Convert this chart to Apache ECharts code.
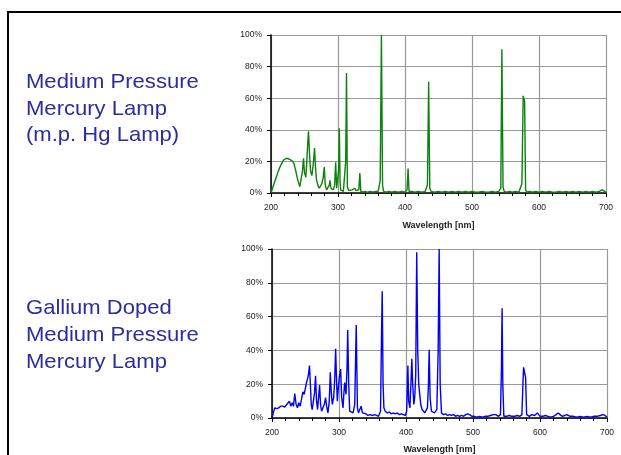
<!DOCTYPE html>
<html>
<head>
    <meta charset="utf-8">
    <title>Lamp spectra</title>
    <script src="https://cdn.jsdelivr.net/npm/echarts@6.0.0/dist/echarts.min.js"></script>
    <style>
        html, body { margin: 0; padding: 0; background: #fff; }
        #chart { width: 621px; height: 455px; }
    </style>
</head>
<body>
<div id="chart"></div>
<script>
    // medium pressure Hg lamp, wavelength (nm) / relative intensity (%)
    const hgWavelength = [200, 203, 207, 211, 215, 219, 223, 227, 231, 234, 237, 240, 243, 245, 247, 248.5, 250, 252, 253.5, 255,
        256, 257.5, 259, 261, 263, 265, 266.5, 268, 270, 272, 274, 276, 278, 279.5, 281, 283, 285, 287, 288, 289.5,
        291, 293, 295, 296.5, 298, 300, 301, 302, 303, 304, 306, 308, 310, 311.5, 312.7, 314, 316, 318, 321, 323,
        325, 327, 329, 331, 332.6, 334, 337, 340, 344, 348, 352, 356, 360, 363, 364.8, 366.5, 368, 372, 376, 380,
        385, 390, 395, 400, 403, 404.6, 406, 410, 415, 420, 425, 430, 433.5, 435.3, 437, 439, 444, 450, 455, 460,
        465, 470, 475, 480, 485, 490, 495, 500, 505, 510, 515, 520, 525, 530, 535, 540, 543, 544.6, 546.3, 548,
        552, 556, 560, 565, 570, 574.5, 576.4, 578.5, 580, 582, 586, 590, 595, 600, 605, 610, 615, 620, 625, 630,
        635, 640, 645, 650, 655, 660, 665, 670, 675, 680, 685, 690, 694, 698, 700];
    const hgIntensity = [0, 4, 9, 14, 18, 21, 22, 21.5, 20.5, 19, 14, 8, 4, 5, 14, 22, 13, 10, 20, 33,
        39, 25, 14, 11, 18, 28.5, 16, 8, 5, 3, 4, 6, 10, 16.5, 5, 2, 3, 5, 8, 3,
        2, 2, 5, 19.5, 3, 4, 15, 41, 8, 2, 1.5, 1, 1.5, 20, 76, 4, 1.5, 1, 2, 1.5,
        3, 1.5, 1, 2, 12.7, 1, 0.5, 1, 0.5, 1, 0.5, 1, 1, 8, 100, 5, 1, 0.5, 1, 0.5,
        1, 0.5, 1, 0.5, 2, 15.5, 1, 1, 0.5, 1, 0.5, 1, 5, 70.4, 3, 1, 0.5, 1, 0.5, 1,
        0.5, 1, 0.5, 1, 0.5, 1, 0.5, 1, 0.5, 0.5, 1, 0.5, 0.5, 1, 0.5, 1, 3, 91, 4, 1,
        0.5, 1, 0.5, 1, 0.5, 6, 61.5, 58, 2, 0.5, 1, 0.5, 1, 0.5, 1, 0.5, 1, 0.5, 0.5, 1,
        0.5, 1, 0.5, 1, 0.5, 1, 0.5, 1, 0.5, 1, 0.5, 1, 2, 1, 0.5];

    // gallium doped lamp
    const gaWavelength = [200, 202, 204, 207, 210, 213, 216, 219, 222, 224, 226, 228, 230, 232, 234, 236, 238, 240, 242, 244,
        246, 248, 250, 251.5, 253, 254.5, 256, 257.5, 258.6, 260, 262, 263.5, 265, 266.5, 268, 269.5, 271, 272.5, 274, 276,
        278, 280, 281.5, 283.5, 285.5, 287, 288.5, 290, 292, 293.5, 295, 296.5, 297.5, 299, 300.5, 302.4, 304, 306, 307.5, 308.5,
        310.5, 312, 313, 314.5, 316, 318, 321, 323.5, 325.7, 327.5, 329, 331, 333, 335, 337, 340, 343, 346, 350, 353,
        356, 359, 362, 363.5, 364.5, 365.8, 367, 369, 372, 375, 378, 381, 384, 387, 390, 393, 396, 399, 401, 402.8,
        404, 405.8, 407.5, 408.7, 410, 411.7, 413, 414.5, 416, 417.5, 419, 420.5, 422, 424, 426, 428, 430, 432, 433.5, 434.6,
        436, 438, 440, 442.5, 444, 446, 448, 449.5, 451, 453, 456, 459, 462, 465, 468, 471, 474, 477, 480, 483,
        486, 489, 492, 495, 498, 502, 506, 510, 514, 518, 522, 526, 530, 534, 538, 541, 542.5, 543.4, 544.5, 546,
        550, 554, 558, 562, 566, 570, 573, 574.5, 575.5, 577, 578.5, 580, 584, 588, 592, 596, 598, 600, 604, 608,
        612, 616, 620, 624, 627, 630, 633, 637, 640, 645, 650, 655, 660, 665, 670, 675, 680, 685, 690, 694,
        697, 700];
    const gaIntensity = [0, 3, 6, 5.5, 6, 7, 7, 6.5, 8, 7.5, 10, 7, 9, 7, 14.5, 8, 6, 9, 7, 11,
        15.5, 14, 18, 21, 23, 26, 31, 18, 8, 5, 4, 15, 25, 10, 5, 12, 19.5, 8, 4, 6,
        8, 12, 7, 3, 10, 27, 15, 8, 12, 22, 41, 20, 10, 18, 24, 29, 12, 6, 16, 21,
        14, 30, 52, 20, 4, 3, 3, 8, 55, 6, 3, 4, 7, 3, 2, 2.5, 1.5, 2, 1.5, 2,
        1.5, 1, 4, 50, 75, 20, 6, 4, 3, 3.5, 2.5, 3, 2.5, 3, 2, 2.5, 2, 1.5, 4, 31,
        10, 6, 22, 35, 20, 8, 12, 25, 98, 40, 20, 14, 8, 5, 4, 3, 4, 6, 20, 40.4,
        12, 4, 3, 3, 2.5, 5, 40, 100, 20, 3, 2, 2.5, 1.5, 2, 1.5, 2, 1, 1.5, 1, 1.5,
        1, 2, 2.5, 2, 1, 1, 0.5, 1, 0.5, 1, 1, 1.5, 2, 2, 1, 2, 30, 65, 20, 1,
        1, 1.5, 1, 1, 1.5, 1, 2, 20, 30, 29, 24, 2, 1, 2, 1.5, 3, 2.5, 1, 1, 1.5,
        1, 0.5, 1, 2, 3, 2, 1, 1.5, 2, 1, 1, 0.5, 1, 0.5, 1, 0.5, 1, 1, 1.5, 2,
        1.5, 0.5];

    const xMin = 200, xMax = 700, xStep = 100;
    const yMin = 0, yMax = 100, yStep = 20;

    const pairs = (xs, ys) => xs.map((x, i) => [x, ys[i]]);

    const labelFont = { fontFamily: 'Liberation Sans', fontSize: 8.5, color: '#222' };

    const makeX = idx => ({
        type: 'value',
        gridIndex: idx,
        min: xMin,
        max: xMax,
        interval: xStep,
        name: 'Wavelength [nm]',
        nameLocation: 'middle',
        nameGap: idx === 0 ? 28 : 27,
        nameTextStyle: { fontFamily: 'Liberation Sans', fontSize: 9, fontWeight: 'bold', color: '#222' },
        axisLine: { lineStyle: { color: '#000', width: 1.5 } },
        axisTick: { length: 4, lineStyle: { color: '#000' } },
        minorTick: { show: true, splitNumber: 5, length: 3, lineStyle: { color: '#000' } },
        axisLabel: Object.assign({ margin: 10 }, labelFont),
        splitLine: { show: true, lineStyle: { color: '#999', width: 1.2 } }
    });

    const makeY = idx => ({
        type: 'value',
        gridIndex: idx,
        min: yMin,
        max: yMax,
        interval: yStep,
        axisLine: { show: true, lineStyle: { color: '#000', width: 1.5 } },
        axisTick: { show: true, length: 4, lineStyle: { color: '#000' } },
        axisLabel: Object.assign({ margin: 9, formatter: '{value}%' }, labelFont),
        splitLine: { show: true, lineStyle: { color: '#999', width: 1.2 } }
    });

    const chart = echarts.init(document.getElementById('chart'), null, { renderer: 'canvas' });

    chart.setOption({
        animation: false,
        backgroundColor: '#fff',
        grid: [
            { left: 271, top: 35, width: 335, height: 158 },
            { left: 272, top: 249, width: 335, height: 171 }
        ],
        xAxis: [makeX(0), makeX(1)],
        yAxis: [makeY(0), makeY(1)],
        series: [
            {
                type: 'line',
                xAxisIndex: 0,
                yAxisIndex: 0,
                data: pairs(hgWavelength, hgIntensity),
                showSymbol: false,
                lineStyle: { color: '#0b820b', width: 1.4 },
                z: 3
            },
            {
                type: 'line',
                xAxisIndex: 1,
                yAxisIndex: 1,
                data: pairs(gaWavelength, gaIntensity),
                showSymbol: false,
                lineStyle: { color: '#0000f2', width: 1.4 },
                z: 3
            }
        ],
        graphic: [
            {
                type: 'polyline',
                shape: { points: [[8, 455], [8, 12], [621, 12]] },
                style: { stroke: '#000', lineWidth: 2, fill: null }
            },
            {
                type: 'text',
                x: 26,
                y: 69,
                scaleX: 1.05,
                style: {
                    text: 'Medium Pressure\nMercury Lamp\n(m.p. Hg Lamp)',
                    fill: '#2b2d9c',
                    fontFamily: 'Liberation Sans',
                    fontSize: 21,
                    lineHeight: 26.5,
                    verticalAlign: 'top'
                }
            },
            {
                type: 'text',
                x: 26,
                y: 295,
                scaleX: 1.05,
                style: {
                    text: 'Gallium Doped\nMedium Pressure\nMercury Lamp',
                    fill: '#2b2d9c',
                    fontFamily: 'Liberation Sans',
                    fontSize: 21,
                    lineHeight: 27,
                    verticalAlign: 'top'
                }
            }
        ]
    });
</script>
</body>
</html>
